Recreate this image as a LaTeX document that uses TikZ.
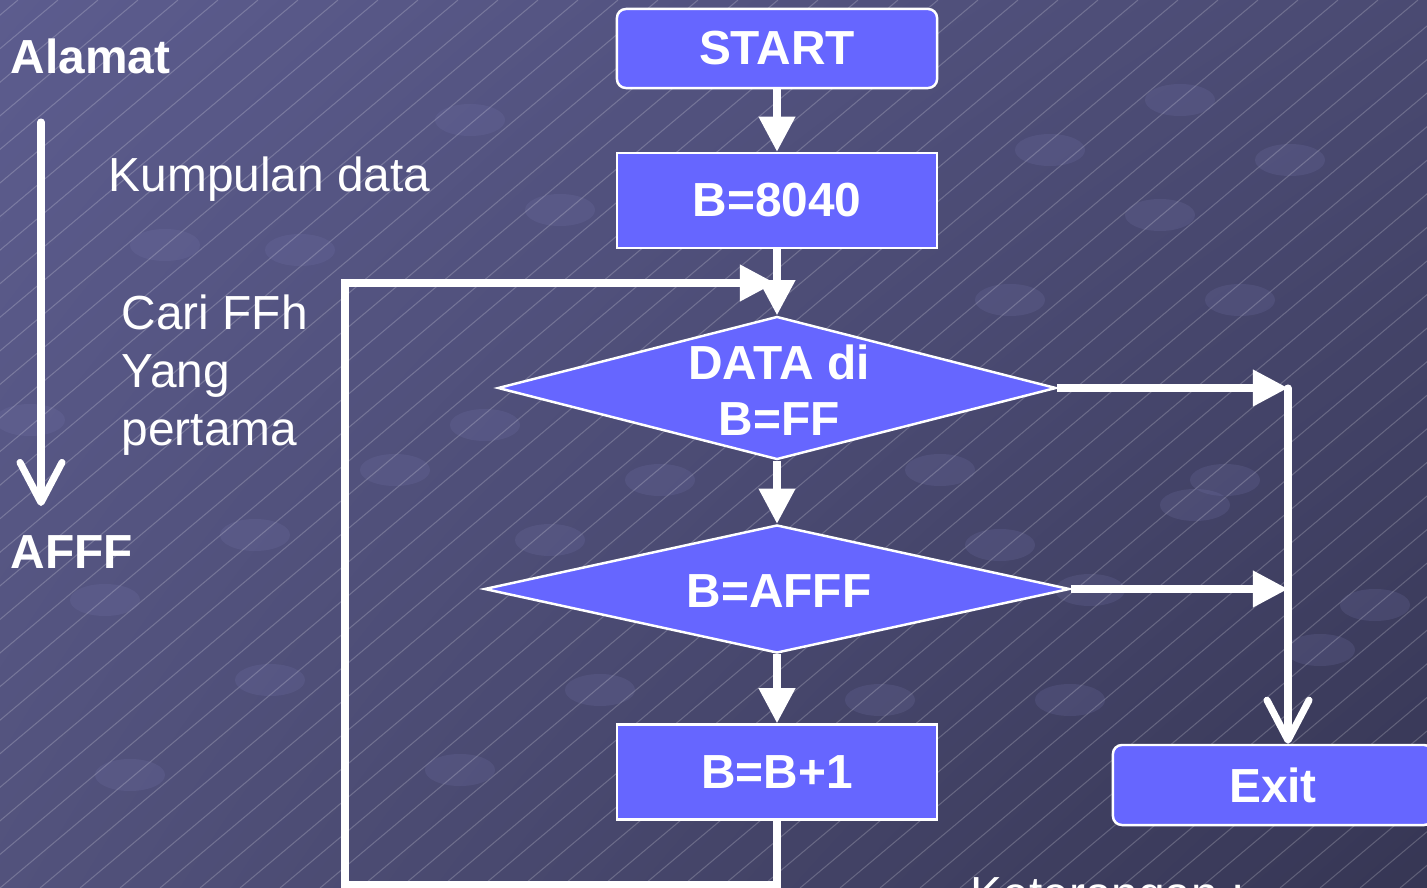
\documentclass[tikz,border=0pt]{standalone}
\usepackage{fontspec}
\setmainfont{Liberation Sans}
\usetikzlibrary{arrows.meta,shapes.geometric,shadings}
\definecolor{bgtl}{RGB}{92,92,142}
\definecolor{bgtr}{RGB}{74,74,114}
\definecolor{bgbl}{RGB}{82,82,124}
\definecolor{bgbr}{RGB}{54,54,84}
\definecolor{dotblue}{RGB}{118,118,172}
\definecolor{boxblue}{RGB}{102,102,255}
\tikzset{
  txt/.style={text=white, inner sep=0pt, font=\fontsize{13.6pt}{16.5pt}\selectfont},
  btxt/.style={txt, font=\fontsize{13.6pt}{16pt}\selectfont\bfseries, align=center},
  box/.style={btxt, draw=white, line width=0.7pt, fill=boxblue, minimum width=3.2cm},
  decision/.style={diamond, draw=white, line width=0.7pt, fill=boxblue, inner sep=0pt},
  flow/.style={draw=white, line width=2pt, -{Triangle[length=0.35cm,width=0.35cm]}},
  openflow/.style={draw=white, line width=2pt, line cap=round, -{Straight Barb[length=0.4cm,width=0.42cm,round]}},
}
\begin{document}
\begin{tikzpicture}[x=0.01cm,y=-0.01cm]
			%%%%% BACKGROUND %%%%%
			\useasboundingbox (0,0) rectangle (1427,888);
			\begin{scope}
			\clip (0,0) rectangle (1427,888);
			\shade[upper left=bgtl, upper right=bgtr, lower left=bgbl, lower right=bgbr] (0,0) rectangle (1427,888);
			\foreach \p in {(30,420),(105,600),(130,775),(165,245),(255,535),(270,680),(300,250),(395,470),(485,425),(550,540),(600,690),(460,770),(660,480),(940,470),(1000,545),(1090,590),(880,700),(1070,700),(1225,480),(1195,505),(1375,605),(1320,650),(1180,100),(1290,160),(1160,215),(1240,300),(1050,150),(470,120),(560,210),(1010,300)}
				\fill[dotblue, opacity=0.2] \p ellipse [x radius=0.35cm, y radius=0.16cm];
			\foreach \i in {-1080,-1040,...,1440}
				\draw[white, opacity=0.2, line width=0.3pt] (\i,888) -- ++(1058,-888);
			\end{scope}
			
			%%%%% LEFT NOTES %%%%%
			\node[btxt, anchor=west] (alamat) at (10,56) {Alamat};
			\node[btxt, anchor=west] (afff) at (10,552) {AFFF};
			\coordinate (adrtop) at (41,122);
			\coordinate (adrbot) at (41,506);
			\draw[openflow] (adrtop) -- (adrbot);
			\node[txt, anchor=west] (kumpulan) at (108,179) {Kumpulan data};
			\node[txt, anchor=west, align=left, font=\fontsize{13.6pt}{16.5pt}\selectfont] (carifirst) at (121,375) {Cari FFh\\Yang\\pertama};
			
			%%%%% FLOW %%%%%
			\node[box, rounded corners=0.09cm, minimum height=0.79cm] (start) at (777,48.5) {START};
			\node[box, minimum height=0.95cm] (init) at (777,200.5) {B=8040};
			\node[decision, minimum width=5.58cm, minimum height=1.43cm] (cekff) at (777,388) {};
			\node[btxt] (cekfftext) at (779,390) {DATA di\\B=FF};
			\node[decision, minimum width=5.85cm, minimum height=1.28cm] (cekend) at (777,589) {};
			\node[btxt] (cekendtext) at (779,591) {B=AFFF};
			\node[box, minimum height=0.95cm] (incr) at (777,772) {B=B+1};
			\node[box, rounded corners=0.09cm, minimum height=0.8cm] (exit) at (1273,785) {Exit};
			
			\coordinate (joinff) at (1288,388);
			\coordinate (joinend) at (1288,589);
			\coordinate (loopbot) at (777,885);
			\coordinate (loopleft) at (345,885);
			\coordinate (looptop) at (345,283);
			\coordinate (loopend) at (775,283);
			
			\draw[flow] (incr.south) -- (loopbot) -- (loopleft) -- (looptop) -- (loopend);
			\draw[flow] (start) -- (init);
			\draw[flow] (init) -- (cekff);
			\draw[flow] (cekff) -- (cekend);
			\draw[flow] (cekend) -- (incr);
			\draw[flow] (cekff.east) -- (joinff);
			\draw[flow] (cekend.east) -- (joinend);
			\draw[openflow] (joinff) -- (joinff |- exit.north);
			
			\node[txt, anchor=north west] (keterangan) at (970,877) {Keterangan :};
			%%%%% END %%%%%
		\end{tikzpicture}
\end{document}
